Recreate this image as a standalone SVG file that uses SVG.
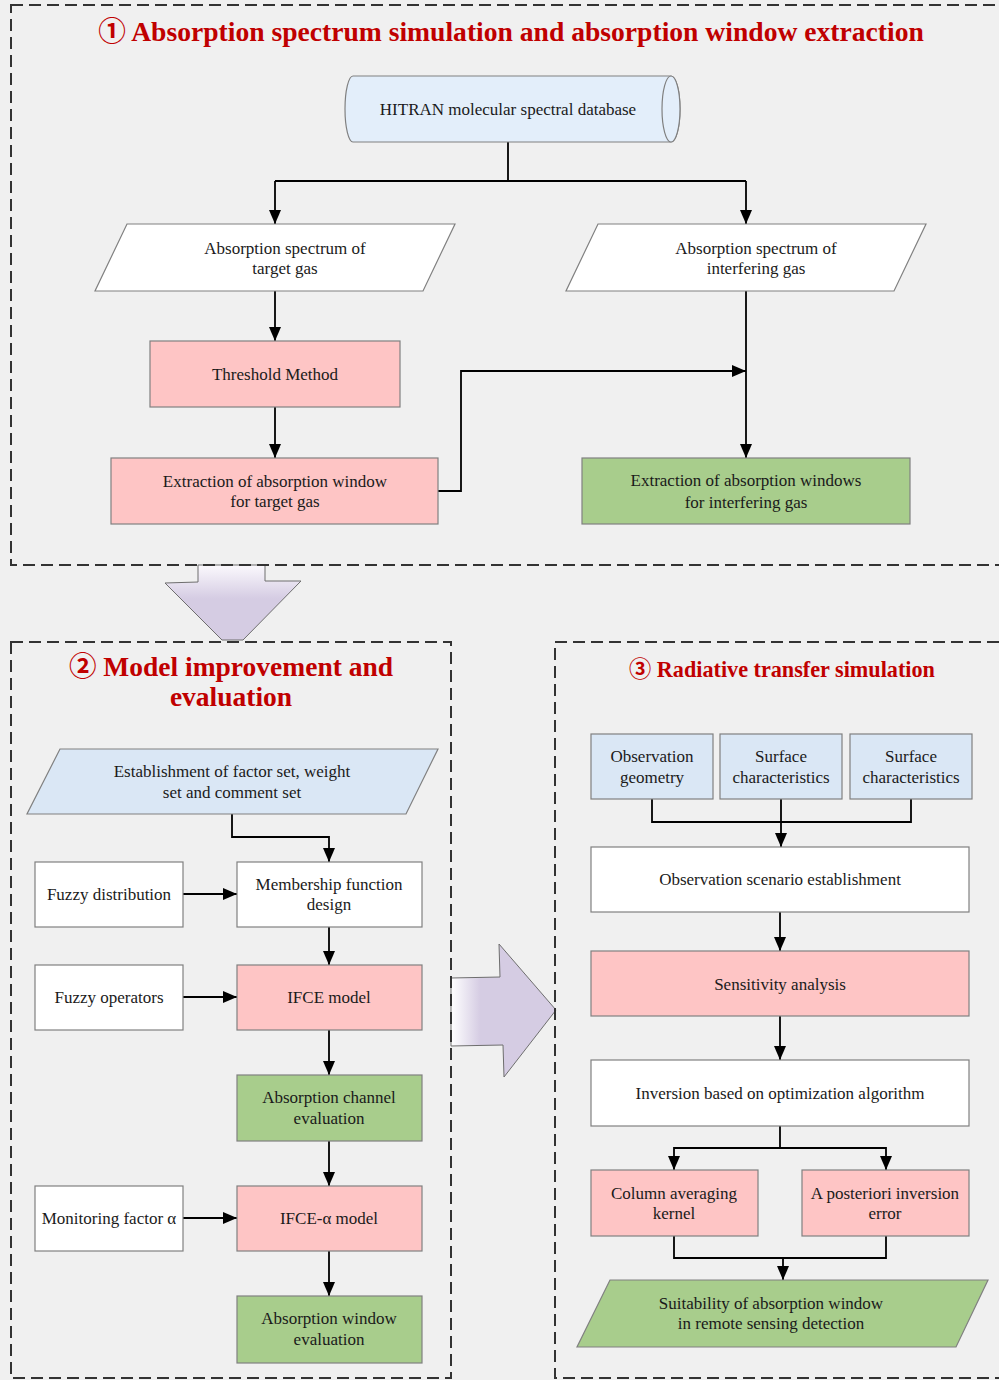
<svg xmlns="http://www.w3.org/2000/svg" width="999" height="1380" viewBox="0 0 999 1380">
<defs>
<style>
.sec{fill:none;stroke:#333;stroke-width:2;stroke-dasharray:12 6}
.title{font-family:"Liberation Serif","Noto Sans CJK SC",serif;font-weight:bold;fill:#c00000}
.box{stroke:#808080;stroke-width:1.2}
.w{fill:#ffffff}
.pk{fill:#fec5c5}
.gr{fill:#a8cd8c}
.bl{fill:#dae7f5}
.t{font-family:"Liberation Serif",serif;font-size:17px;fill:#1a1a1a;text-anchor:middle}
.c{fill:none;stroke:#000;stroke-width:1.8}
.ca{fill:none;stroke:#000;stroke-width:1.8;marker-end:url(#ah)}
.big{stroke:#6e6e6e;stroke-width:1}
</style>
<marker id="ah" viewBox="0 0 14 12" markerWidth="14" markerHeight="12" refX="14" refY="6" orient="auto" markerUnits="userSpaceOnUse">
<path d="M0,0 L14,6 L0,12 Z" fill="#000"/>
</marker>
<linearGradient id="gdown" x1="0" y1="0" x2="0" y2="1">
<stop offset="0" stop-color="#fbf9fd"/>
<stop offset="0.45" stop-color="#d5cce3"/>
<stop offset="1" stop-color="#d5cce3"/>
</linearGradient>
<linearGradient id="gright" x1="451" y1="0" x2="556" y2="0" gradientUnits="userSpaceOnUse">
<stop offset="0" stop-color="#ffffff"/>
<stop offset="0.28" stop-color="#d5cce3"/>
<stop offset="1" stop-color="#d5cce3"/>
</linearGradient>
</defs>
<rect x="0" y="0" width="999" height="1380" fill="#f0f0f0"/>

<g id="bigarrows">
<path class="big" d="M198,565 L265,565 L265,581 L301,581 L243,640 L222,640 L165,583 L198,582 Z" fill="url(#gdown)"/>
<path class="big" d="M451,978 L500,977 L499,944 L556,1010 L504,1077 L503,1045 L451,1046 Z" fill="url(#gright)"/>
</g>

<g id="sections">
<rect class="sec" x="11" y="5" width="1010" height="560"/>
<rect class="sec" x="11" y="642" width="440" height="736"/>
<rect class="sec" x="555" y="642" width="470" height="736"/>
<text class="title" x="511" y="41" font-size="27.6" text-anchor="middle">① Absorption spectrum simulation and absorption window extraction</text>
<text class="title" x="231" y="676" font-size="27.5" text-anchor="middle">② Model improvement and</text>
<text class="title" x="231" y="706" font-size="27.5" text-anchor="middle">evaluation</text>
<text class="title" x="782" y="677" font-size="22.2" text-anchor="middle">③ Radiative transfer simulation</text>
</g>

<g id="connectors">
<path class="c" d="M508,142 V181 M275,181 H746"/>
<path class="ca" d="M275,181 V224"/>
<path class="ca" d="M746,181 V224"/>
<path class="ca" d="M275,291 V341"/>
<path class="ca" d="M275,407 V458"/>
<path class="ca" d="M746,291 V458"/>
<path class="ca" d="M437,491 H461 V371 H746"/>

<path class="ca" d="M232,814 V837 H329 V862"/>
<path class="ca" d="M183,894 H237"/>
<path class="ca" d="M329,927 V965"/>
<path class="ca" d="M183,997 H237"/>
<path class="ca" d="M329,1030 V1075"/>
<path class="ca" d="M329,1141 V1186"/>
<path class="ca" d="M183,1218 H237"/>
<path class="ca" d="M329,1251 V1296"/>

<path class="c" d="M652,799 V822 H911 V799"/>
<path class="ca" d="M781,799 V847"/>
<path class="ca" d="M780,912 V951"/>
<path class="ca" d="M780,1016 V1060"/>
<path class="c" d="M780,1126 V1148"/>
<path class="ca" d="M780,1148 H674 V1170"/>
<path class="ca" d="M780,1148 H886 V1170"/>
<path class="c" d="M674,1236 V1258 H886 V1236"/>
<path class="ca" d="M783,1258 V1280"/>
</g>

<g id="hitran">
<path class="box" fill="#e3eefa" d="M353,76 L671,76 A9,33 0 0 1 671,142 L353,142 A8,33 0 0 1 353,76 Z"/>
<ellipse class="box" fill="#e3eefa" cx="671" cy="109" rx="9" ry="33"/>
<text class="t" x="508" y="115">HITRAN molecular spectral database</text>
</g>

<g id="spec-target">
<polygon class="box w" points="127,224 455,224 423,291 95,291"/>
<text class="t" x="285" y="254">Absorption spectrum of</text>
<text class="t" x="285" y="274">target gas</text>
</g>
<g id="spec-interfering">
<polygon class="box w" points="598,224 926,224 894,291 566,291"/>
<text class="t" x="756" y="254">Absorption spectrum of</text>
<text class="t" x="756" y="274">interfering gas</text>
</g>
<g id="threshold">
<rect class="box pk" x="150" y="341" width="250" height="66"/>
<text class="t" x="275" y="380">Threshold Method</text>
</g>
<g id="extract-target">
<rect class="box pk" x="111" y="458" width="327" height="66"/>
<text class="t" x="275" y="487">Extraction of absorption window</text>
<text class="t" x="275" y="507">for target gas</text>
</g>
<g id="extract-interfering">
<rect class="box gr" x="582" y="458" width="328" height="66"/>
<text class="t" x="746" y="486">Extraction of absorption windows</text>
<text class="t" x="746" y="508">for interfering gas</text>
</g>

<g id="establishment">
<polygon class="box bl" points="60,749 438,749 406,814 27,814"/>
<text class="t" x="232" y="777">Establishment of factor set, weight</text>
<text class="t" x="232" y="798">set and comment set</text>
</g>
<g id="fuzzy-dist">
<rect class="box w" x="35" y="862" width="148" height="65"/>
<text class="t" x="109" y="900">Fuzzy distribution</text>
</g>
<g id="membership">
<rect class="box w" x="237" y="862" width="185" height="65"/>
<text class="t" x="329" y="890">Membership function</text>
<text class="t" x="329" y="910">design</text>
</g>
<g id="fuzzy-op">
<rect class="box w" x="35" y="965" width="148" height="65"/>
<text class="t" x="109" y="1003">Fuzzy operators</text>
</g>
<g id="ifce">
<rect class="box pk" x="237" y="965" width="185" height="65"/>
<text class="t" x="329" y="1003">IFCE model</text>
</g>
<g id="channel-eval">
<rect class="box gr" x="237" y="1075" width="185" height="66"/>
<text class="t" x="329" y="1103">Absorption channel</text>
<text class="t" x="329" y="1124">evaluation</text>
</g>
<g id="monitor">
<rect class="box w" x="35" y="1186" width="148" height="65"/>
<text class="t" x="109" y="1224">Monitoring factor α</text>
</g>
<g id="ifce-alpha">
<rect class="box pk" x="237" y="1186" width="185" height="65"/>
<text class="t" x="329" y="1224">IFCE-α model</text>
</g>
<g id="window-eval">
<rect class="box gr" x="237" y="1296" width="185" height="67"/>
<text class="t" x="329" y="1324">Absorption window</text>
<text class="t" x="329" y="1345">evaluation</text>
</g>

<g id="obs-geom">
<rect class="box bl" x="591" y="734" width="122" height="65"/>
<text class="t" x="652" y="762">Observation</text>
<text class="t" x="652" y="783">geometry</text>
</g>
<g id="surface1">
<rect class="box bl" x="720" y="734" width="122" height="65"/>
<text class="t" x="781" y="762">Surface</text>
<text class="t" x="781" y="783">characteristics</text>
</g>
<g id="surface2">
<rect class="box bl" x="850" y="734" width="122" height="65"/>
<text class="t" x="911" y="762">Surface</text>
<text class="t" x="911" y="783">characteristics</text>
</g>
<g id="scenario">
<rect class="box w" x="591" y="847" width="378" height="65"/>
<text class="t" x="780" y="885">Observation scenario establishment</text>
</g>
<g id="sensitivity">
<rect class="box pk" x="591" y="951" width="378" height="65"/>
<text class="t" x="780" y="990">Sensitivity analysis</text>
</g>
<g id="inversion">
<rect class="box w" x="591" y="1060" width="378" height="66"/>
<text class="t" x="780" y="1099">Inversion based on optimization algorithm</text>
</g>
<g id="kernel">
<rect class="box pk" x="591" y="1170" width="167" height="66"/>
<text class="t" x="674" y="1199">Column averaging</text>
<text class="t" x="674" y="1219">kernel</text>
</g>
<g id="posteriori">
<rect class="box pk" x="802" y="1170" width="167" height="66"/>
<text class="t" x="885" y="1199">A posteriori inversion</text>
<text class="t" x="885" y="1219">error</text>
</g>
<g id="suitability">
<polygon class="box gr" points="610,1280 988,1280 956,1347 577,1347"/>
<text class="t" x="771" y="1309">Suitability of absorption window</text>
<text class="t" x="771" y="1329">in remote sensing detection</text>
</g>
</svg>
